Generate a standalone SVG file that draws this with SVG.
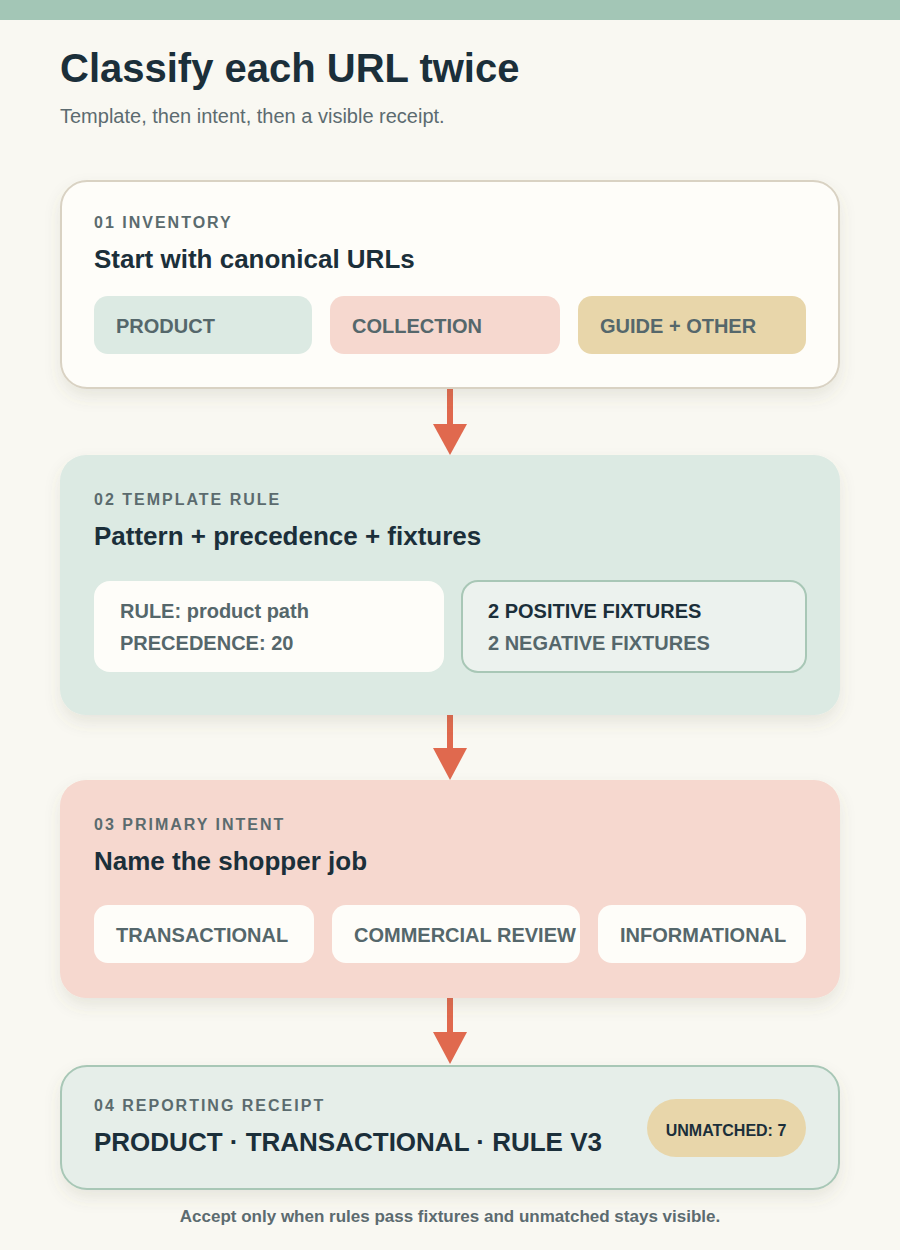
<svg xmlns="http://www.w3.org/2000/svg" width="900" height="1250" viewBox="0 0 900 1250">
<defs>
<style>
text{font-family:"Liberation Sans",Arial,sans-serif}
.lbl{font-size:16px;font-weight:bold;letter-spacing:2px;fill:#5b6b6e}
.h{font-size:26px;font-weight:bold;fill:#1b2f3a}
.chip{font-size:20px;font-weight:bold;fill:#55676b}
.arr{stroke:#e0694e;stroke-width:6;stroke-linecap:round;fill:none}
</style>
<filter id="sh" x="-10%" y="-10%" width="120%" height="140%"><feDropShadow dx="0" dy="8" stdDeviation="8" flood-color="#6b6b50" flood-opacity="0.12"/></filter>
</defs>
<rect width="900" height="1250" fill="#f9f8f2"/>
<rect width="900" height="20" fill="#a3c6b6"/>
<text x="60" y="82" font-size="40" font-weight="bold" fill="#1b2f3a">Classify each URL twice</text>
<text x="60" y="123" font-size="20" fill="#5c6b70">Template, then intent, then a visible receipt.</text>
<g id="connectors">
<line class="arr" x1="450" y1="389" x2="450" y2="428"/><polygon points="433,424 467,424 450,455" fill="#e0694e"/>
<line class="arr" x1="450" y1="714" x2="450" y2="752"/><polygon points="433,748 467,748 450,780" fill="#e0694e"/>
<line class="arr" x1="450" y1="998" x2="450" y2="1036"/><polygon points="433,1032 467,1032 450,1064" fill="#e0694e"/>
</g>
<g id="inventory">
<rect x="61" y="181" width="778" height="207" rx="26" fill="#fefdf9" stroke="#d9d2c3" stroke-width="2" filter="url(#sh)"/>
<text class="lbl" x="94" y="228">01 INVENTORY</text>
<text class="h" x="94" y="268">Start with canonical URLs</text>
<rect x="94" y="296" width="218" height="58" rx="14" fill="#dceae3"/>
<text class="chip" x="116" y="333">PRODUCT</text>
<rect x="330" y="296" width="230" height="58" rx="14" fill="#f6d8cf"/>
<text class="chip" x="352" y="333">COLLECTION</text>
<rect x="578" y="296" width="228" height="58" rx="14" fill="#e8d6aa"/>
<text class="chip" x="600" y="333">GUIDE + OTHER</text>
</g>
<g id="template">
<rect x="60" y="455" width="780" height="260" rx="26" fill="#dceae3" filter="url(#sh)"/>
<text class="lbl" x="94" y="505">02 TEMPLATE RULE</text>
<text class="h" x="94" y="545">Pattern + precedence + fixtures</text>
<rect x="94" y="581" width="350" height="91" rx="16" fill="#fefdf9"/>
<text class="chip" x="120" y="618">RULE: product path</text>
<text class="chip" x="120" y="650">PRECEDENCE: 20</text>
<rect x="462" y="581" width="344" height="91" rx="16" fill="#ecf2ee" stroke="#a8c7b6" stroke-width="2"/>
<text class="chip" x="488" y="618" fill="#1b2f3a" style="fill:#1b2f3a">2 POSITIVE FIXTURES</text>
<text class="chip" x="488" y="650">2 NEGATIVE FIXTURES</text>
</g>
<g id="intent">
<rect x="60" y="780" width="780" height="218" rx="26" fill="#f6d8cf" filter="url(#sh)"/>
<text class="lbl" x="94" y="830">03 PRIMARY INTENT</text>
<text class="h" x="94" y="870">Name the shopper job</text>
<rect x="94" y="905" width="220" height="58" rx="14" fill="#fefdf9"/>
<text class="chip" x="116" y="942">TRANSACTIONAL</text>
<rect x="332" y="905" width="248" height="58" rx="14" fill="#fefdf9"/>
<text class="chip" x="354" y="942">COMMERCIAL REVIEW</text>
<rect x="598" y="905" width="208" height="58" rx="14" fill="#fefdf9"/>
<text class="chip" x="620" y="942">INFORMATIONAL</text>
</g>
<g id="receipt">
<rect x="61" y="1066" width="778" height="123" rx="26" fill="#e6eee9" stroke="#a8c7b6" stroke-width="2" filter="url(#sh)"/>
<text class="lbl" x="94" y="1111">04 REPORTING RECEIPT</text>
<text class="h" x="94" y="1151">PRODUCT · TRANSACTIONAL · RULE V3</text>
<rect x="647" y="1099" width="159" height="58" rx="29" fill="#e8d6aa"/>
<text x="726" y="1136" text-anchor="middle" font-size="16" font-weight="bold" fill="#1b2f3a">UNMATCHED: 7</text>
</g>
<text x="450" y="1222" text-anchor="middle" font-size="17" font-weight="bold" fill="#5c6b70">Accept only when rules pass fixtures and unmatched stays visible.</text>
</svg>
